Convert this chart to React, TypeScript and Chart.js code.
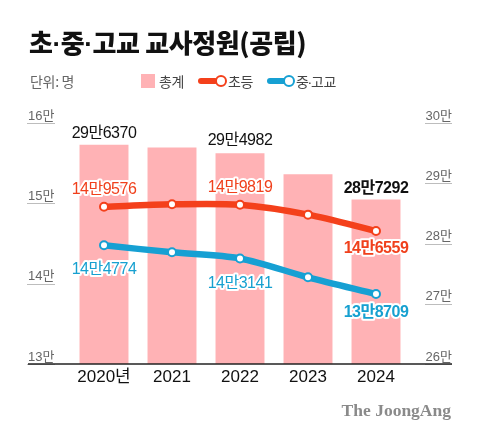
import React, { useEffect, useRef } from 'react';
import { Chart, registerables } from 'chart.js';

Chart.register(...registerables);

// ---- data ----
const years = ['2020년', '2021', '2022', '2023', '2024'];
const totalTeachers = [296370, 295950, 294982, 291500, 287292];
const elementaryTeachers = [149576, 149880, 149819, 148590, 146559];
const secondaryTeachers = [144774, 143900, 143141, 140790, 138709];
const leftTickValues = [130000, 140000, 150000, 160000];
const rightTickValues = [260000, 270000, 280000, 290000, 300000];
const labeledIndexes = [0, 2, 4];

// ---- style ----
const PINK = '#ffb2b5';
const RED = '#f4401b';
const BLUE = '#16a0d3';
const RED_TEXT = '#f0401c';
const BLUE_TEXT = '#17a0d0';
const SANS = "'Liberation Sans', 'Noto Sans CJK KR', sans-serif";
const KR = "'Noto Sans CJK KR', sans-serif";

// vertical offsets of value labels from their mark (per labeled index)
const labelPlacement = [
  { ds: 0, color: '#111', offsets: [-11, -13, -11], halo: false },
  { ds: 1, color: RED_TEXT, offsets: [-17, -17, 18], halo: true },
  { ds: 2, color: BLUE_TEXT, offsets: [24, 25, 19], halo: true },
];

const fmt = (v: number) => `${Math.floor(v / 10000)}만${String(v % 10000).padStart(4, '0')}`;

const valueLabels = {
  id: 'valueLabels',
  afterDatasetsDraw(chart: any) {
    const ctx = chart.ctx;
    ctx.save();
    ctx.textAlign = 'center';
    ctx.textBaseline = 'middle';
    try { ctx.letterSpacing = '-0.5px'; } catch (e) {}
    labelPlacement.forEach((p) => {
      const meta = chart.getDatasetMeta(p.ds);
      labeledIndexes.forEach((idx, k) => {
        const el = meta.data[idx];
        const v = chart.data.datasets[p.ds].data[idx] as number;
        const bold = k === labeledIndexes.length - 1;
        ctx.font = `${bold ? 'bold ' : ''}16px ${SANS}`;
        const x = el.x;
        const y = el.y + p.offsets[k];
        const text = fmt(v);
        if (p.halo) {
          ctx.lineJoin = 'round';
          ctx.lineWidth = 4;
          ctx.strokeStyle = '#fff';
          ctx.strokeText(text, x, y);
        }
        ctx.fillStyle = p.color;
        ctx.fillText(text, x, y);
      });
    });
    ctx.restore();
  },
};

const axisDecor = {
  id: 'axisDecor',
  afterDatasetsDraw(chart: any) {
    const ctx = chart.ctx;
    const yl = chart.scales.y;
    const yr = chart.scales.y1;
    ctx.save();
    ctx.strokeStyle = '#bdbdbd';
    ctx.lineWidth = 1;
    yl.ticks.forEach((t: any) => {
      const py = Math.round(yl.getPixelForValue(t.value)) + 0.5;
      ctx.beginPath();
      ctx.moveTo(yl.left - 1, py);
      ctx.lineTo(yl.left + 27, py);
      ctx.stroke();
    });
    yr.ticks.forEach((t: any) => {
      const py = Math.round(yr.getPixelForValue(t.value)) + 0.5;
      ctx.beginPath();
      ctx.moveTo(yr.right - 27, py);
      ctx.lineTo(yr.right, py);
      ctx.stroke();
    });
    const by = chart.chartArea.bottom;
    ctx.strokeStyle = '#222';
    ctx.lineWidth = 1.5;
    ctx.beginPath();
    ctx.moveTo(yl.left, by);
    ctx.lineTo(yr.right, by);
    ctx.stroke();
    ctx.restore();
  },
};

const Dot = ({ m }: { m: number }) => (
  <span style={{ fontFamily: "'Liberation Sans', sans-serif", marginLeft: m, marginRight: m }}>·</span>
);

export default function App() {
  const ref = useRef<HTMLCanvasElement | null>(null);

  useEffect(() => {
    if (!ref.current) return;
    const chart = new Chart(ref.current, {
      type: 'bar',
      data: {
        labels: years,
        datasets: [
          {
            type: 'bar',
            label: '총계',
            data: totalTeachers,
            backgroundColor: PINK,
            yAxisID: 'y1',
            barPercentage: 0.72,
            categoryPercentage: 1,
            order: 3,
          },
          {
            type: 'line',
            label: '초등',
            data: elementaryTeachers,
            borderColor: RED,
            borderWidth: 6.5,
            pointRadius: 4,
            pointBorderWidth: 2,
            pointBackgroundColor: '#fff',
            pointBorderColor: RED,
            tension: 0.3,
            yAxisID: 'y',
            order: 1,
          },
          {
            type: 'line',
            label: '중·고교',
            data: secondaryTeachers,
            borderColor: BLUE,
            borderWidth: 6.5,
            pointRadius: 4,
            pointBorderWidth: 2,
            pointBackgroundColor: '#fff',
            pointBorderColor: BLUE,
            tension: 0.3,
            yAxisID: 'y',
            order: 2,
          },
        ] as any,
      },
      options: {
        animation: false,
        responsive: false,
        devicePixelRatio: 1,
        layout: { padding: { left: 28, right: 28, top: 123, bottom: 45 } },
        plugins: {
          legend: { display: false },
          tooltip: { enabled: false },
        },
        scales: {
          x: {
            offset: true,
            grid: { display: false, drawTicks: false },
            border: { display: false },
            ticks: {
              color: '#111',
              font: { size: 17, family: SANS },
              padding: 3,
              maxRotation: 0,
            },
            afterFit: (s: any) => { s.height = 30; },
          },
          y: {
            position: 'left',
            min: 130000,
            max: 160000,
            afterBuildTicks: (s: any) => { s.ticks = leftTickValues.map((value) => ({ value })); },
            grid: { display: false, drawTicks: false },
            border: { display: false },
            ticks: {
              crossAlign: 'far',
              labelOffset: -7,
              padding: 0,
              color: '#666',
              font: { size: 13, family: SANS },
              callback: (v: any) => `${Number(v) / 10000}만`,
            },
            afterFit: (s: any) => { s.width = 42; },
          },
          y1: {
            position: 'right',
            min: 260000,
            max: 300000,
            afterBuildTicks: (s: any) => { s.ticks = rightTickValues.map((value) => ({ value })); },
            grid: { display: false, drawTicks: false },
            border: { display: false },
            ticks: {
              crossAlign: 'far',
              labelOffset: -7,
              padding: 0,
              color: '#666',
              font: { size: 13, family: SANS },
              callback: (v: any) => `${Number(v) / 10000}만`,
            },
            afterFit: (s: any) => { s.width = 42; },
          },
        } as any,
      },
      plugins: [axisDecor, valueLabels],
    });
    return () => chart.destroy();
  }, []);

  const legendText: React.CSSProperties = {
    position: 'absolute',
    top: 71,
    fontFamily: KR,
    fontSize: 14,
    lineHeight: '20px',
    color: '#444',
    letterSpacing: '-0.3px',
    whiteSpace: 'nowrap',
  };

  return (
    <div
      style={{
        position: 'fixed',
        left: 0,
        top: 0,
        width: 480,
        height: 439,
        background: '#fff',
        overflow: 'hidden',
      }}
    >
      <canvas ref={ref} width={480} height={439} style={{ position: 'absolute', left: 0, top: 0, width: 480, height: 439 }} />
      <div
        style={{
          position: 'absolute',
          left: 29,
          top: 27,
          fontFamily: KR,
          fontWeight: 900,
          fontSize: 26,
          lineHeight: '30px',
          letterSpacing: '-0.4px',
          color: '#111',
          whiteSpace: 'nowrap',
        }}
      >
        초<Dot m={0} />중<Dot m={0} />고교 교사정원(공립)
      </div>
      <div style={{ ...legendText, left: 30, color: '#666' }}>단위: 명</div>
      <div style={{ position: 'absolute', left: 141, top: 74, width: 14, height: 14, background: PINK }} />
      <div style={{ ...legendText, left: 159 }}>총계</div>
      <div style={{ position: 'absolute', left: 198, top: 78, width: 20, height: 6, borderRadius: 3, background: RED }} />
      <div style={{ position: 'absolute', left: 215, top: 75, width: 8, height: 8, borderRadius: '50%', border: `2px solid ${RED}`, background: '#fff' }} />
      <div style={{ ...legendText, left: 228 }}>초등</div>
      <div style={{ position: 'absolute', left: 267, top: 78, width: 20, height: 6, borderRadius: 3, background: BLUE }} />
      <div style={{ position: 'absolute', left: 283, top: 75, width: 8, height: 8, borderRadius: '50%', border: `2px solid ${BLUE}`, background: '#fff' }} />
      <div style={{ ...legendText, left: 296 }}>중<Dot m={-1} />고교</div>
      <div
        style={{
          position: 'absolute',
          right: 29,
          top: 399,
          fontFamily: "'Liberation Serif', 'DejaVu Serif', serif",
          fontWeight: 700,
          fontSize: 17.5,
          lineHeight: '22px',
          color: '#8a8a8a',
          whiteSpace: 'nowrap',
        }}
      >
        The JoongAng
      </div>
    </div>
  );
}
